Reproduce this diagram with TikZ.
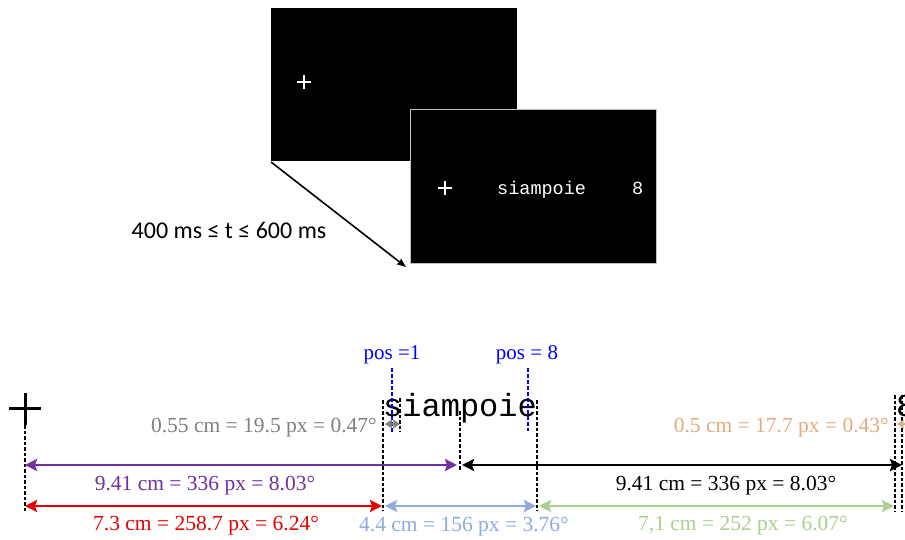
\documentclass[tikz,border=0pt]{standalone}
\usepackage{fontspec}
\setmainfont{Liberation Serif}
\newfontfamily\monofont{Liberation Mono}
\newfontfamily\slidefont{Carlito}
\usepackage{xcolor}
\usetikzlibrary{arrows.meta,positioning,calc}

\definecolor{dimgray}{RGB}{128,128,128}
\definecolor{dimpurple}{RGB}{112,48,160}
\definecolor{dimred}{RGB}{230,0,0}
\definecolor{dimblue}{RGB}{143,170,220}
\definecolor{dimgreen}{RGB}{169,209,142}
\definecolor{dimorange}{RGB}{230,170,125}
\definecolor{posblue}{RGB}{0,0,255}

\begin{document}
\begin{tikzpicture}[x=1pt, y=-1pt,
  screen/.style={fill=black, draw=black!25, line width=0.8pt},
  guide/.style={dash pattern=on 3.5pt off 2pt, line width=1.3pt},
  posline/.style={posblue, dash pattern=on 4pt off 2pt, line width=1.3pt},
  dim/.style={{Stealth[length=12pt, width=12pt, inset=2pt]}-{Stealth[length=12pt, width=12pt, inset=2pt]}, line width=2.6pt},
  smalldim/.style={{Stealth[length=7pt, width=9pt, inset=1pt]}-{Stealth[length=7pt, width=9pt, inset=1pt]}, line width=2pt},
  dimlabel/.style={font=\fontsize{21.5}{24}\selectfont, inner sep=0pt},
  poslabel/.style={font=\fontsize{21}{24}\selectfont, text=posblue, inner sep=0pt},
  word/.style={font=\monofont\fontsize{32}{34}\selectfont, inner sep=0pt},
  shot/.style={font=\monofont\fontsize{18.5}{20}\selectfont, text=white, inner sep=0pt},
]
  \clip (0,0) rectangle (905,540);
  \fill[white] (0,0) rectangle (905,540);

  % the two screens
  \draw[screen, draw=black] (271,8) rectangle (516,160);
  \coordinate (s1cross) at (304,82);
  \draw[white, line width=1.4pt] ($(s1cross)+(-7,0)$) -- ($(s1cross)+(7,0)$)
    ($(s1cross)+(0,-7)$) -- ($(s1cross)+(0,7)$);
  \draw[screen] (410,109) rectangle (656,263);
  \coordinate (s2cross) at (445,188);
  \draw[white, line width=1.4pt] ($(s2cross)+(-7,0)$) -- ($(s2cross)+(7,0)$)
    ($(s2cross)+(0,-7)$) -- ($(s2cross)+(0,7)$);
  \node[shot, anchor=base west] (s2word) at (497,195) {siampoie};
  \node[shot, anchor=base west] (s2num) at (632,195) {8};

  \coordinate (tstart) at (271,162);
  \coordinate (tend) at (406,267);
  \draw[-{Stealth[length=9pt, width=7pt, inset=1pt]}, line width=1.6pt] (tstart) -- (tend);
  \node[font=\slidefont\fontsize{24}{26}\selectfont, inner sep=0pt] (soa) at (229,230)
    {400 ms ≤ t ≤ 600 ms};

  % the line with the word
  \coordinate (fix) at (25,408);
  \draw[line width=3pt] ($(fix)+(-16,0)$) -- ($(fix)+(16,0)$)
    ($(fix)+(0,-15)$) -- ($(fix)+(0,17)$);
  \node[word, anchor=base west] (bigword) at (383,416) {siampoie};
  \node[word, anchor=base west] (bignum) at (896,416) {8};

  % guides
  \coordinate (gfix) at (25,425);
  \coordinate (gleft) at (383,400);
  \coordinate (gs) at (400,398);
  \coordinate (gmid) at (460,411);
  \coordinate (gright) at (537,400);
  \coordinate (gnum) at (895,395);
  \coordinate (gnumb) at (902,395);
  \coordinate (bottom) at (0,511);
  \draw[guide] (gfix) -- (gfix |- bottom);
  \draw[guide] (gleft) -- (gleft |- bottom);
  \draw[guide] (gs) -- ++(0,34);
  \draw[guide] (gmid) -- ++(0,60);
  \draw[guide] (gright) -- (gright |- bottom);
  \draw[guide] (gnum) -- (gnum |- bottom);
  \draw[guide] (gnumb) -- (gnumb |- bottom);

  % letter positions
  \node[poslabel] (pos1) at (392,355) {pos =1};
  \node[poslabel] (pos8) at (527,355) {pos = 8};
  \draw[posline] (pos1.south -| 392,0) ++(0,4) -- (392,432);
  \draw[posline] (pos8.south -| 528,0) ++(0,4) -- (528,431);

  % distances
  \coordinate (rowa) at (0,424);
  \coordinate (rowb) at (0,465);
  \coordinate (rowc) at (0,506);
  \draw[smalldim, dimgray] (gleft |- rowa) ++(2,0) -- (gs |- rowa);
  \node[dimlabel, text=dimgray, anchor=east] (lgray) at (377,428) {0.55 cm = 19.5 px = 0.47°};
  \draw[smalldim, dimorange] (gnum |- rowa) ++(2,0) -- ++(20,0);
  \node[dimlabel, text=dimorange, anchor=east] (lorange) at (889,428) {0.5 cm = 17.7 px = 0.43°};

  \draw[dim, dimpurple] (gfix |- rowb) -- ($(gmid |- rowb)+(-3,0)$);
  \node[dimlabel, text=dimpurple] (lpurple) at (205,486) {9.41 cm = 336 px = 8.03°};
  \draw[dim, black] ($(gmid |- rowb)+(2,0)$) -- (gnumb |- rowb);
  \node[dimlabel] (lblack) at (726,486) {9.41 cm = 336 px = 8.03°};

  \draw[dim, dimred] (gfix |- rowc) -- ($(gleft |- rowc)+(-1,0)$);
  \node[dimlabel, text=dimred] (lred) at (206,526) {7.3 cm = 258.7 px = 6.24°};
  \draw[dim, dimblue] ($(gleft |- rowc)+(2,0)$) -- ($(gright |- rowc)+(-1,0)$);
  \node[dimlabel, text=dimblue] (lblue) at (464,527) {4.4 cm = 156 px = 3.76°};
  \draw[dim, dimgreen] ($(gright |- rowc)+(2,0)$) -- ($(gnum |- rowc)+(-1,0)$);
  \node[dimlabel, text=dimgreen] (lgreen) at (743,526) {7,1 cm = 252 px = 6.07°};
\end{tikzpicture}
\end{document}
